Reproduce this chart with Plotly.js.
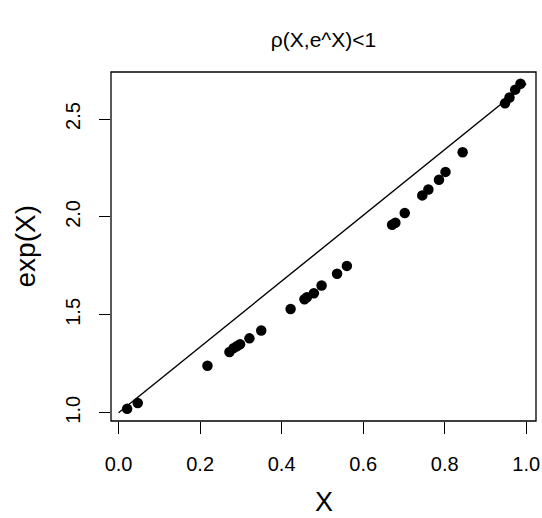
<!DOCTYPE html>
<html>
<head>
<meta charset="utf-8">
<script src="https://cdn.plot.ly/plotly-3.0.1.min.js"></script>
<style>html,body{margin:0;padding:0;background:#fff;}#chart{width:542px;height:518px;}</style>
</head>
<body>
<div id="chart"></div>
<script>
const xValues = [0.021, 0.047, 0.218, 0.272, 0.282, 0.290, 0.298, 0.321, 0.350, 0.422,
  0.456, 0.462, 0.479, 0.498, 0.536, 0.560, 0.671, 0.679, 0.702, 0.745,
  0.760, 0.786, 0.802, 0.844, 0.948, 0.959, 0.973, 0.986];
const yValues = [1.02, 1.05, 1.24, 1.31, 1.33, 1.34, 1.35, 1.38, 1.42, 1.53,
  1.58, 1.59, 1.61, 1.65, 1.71, 1.75, 1.96, 1.97, 2.02, 2.11,
  2.14, 2.19, 2.23, 2.33, 2.58, 2.61, 2.65, 2.68];
const lineX = [0, 1];
const lineY = [1, 2.68];
const xTicks = [0, 0.2, 0.4, 0.6, 0.8, 1.0];
const xTickLabels = ["0.0", "0.2", "0.4", "0.6", "0.8", "1.0"];
const yTicks = [1.0, 1.5, 2.0, 2.5];
const yTickLabels = ["1.0", "1.5", "2.0", "2.5"];
const titleText = "ρ(X,e^X)<1";
const xLabel = "X";
const yLabel = "exp(X)";

const font = "Liberation Sans, Arial, Helvetica, sans-serif";

const traces = [
  {x: lineX, y: lineY, type: "scatter", mode: "lines",
   line: {color: "#000", width: 1.4}, hoverinfo: "skip", cliponaxis: false},
  {x: xValues, y: yValues, type: "scatter", mode: "markers",
   marker: {color: "#000", size: 10.5, line: {width: 0}}}
];

const layout = {
  width: 542, height: 518,
  margin: {l: 111, r: 6, t: 72, b: 97},
  paper_bgcolor: "#fff", plot_bgcolor: "#fff",
  showlegend: false,
  font: {family: font, color: "#000"},
  title: {text: titleText, font: {family: font, size: 21, color: "#000"},
          x: 0.5, xref: "paper", y: 1 - 40/518, yref: "container", yanchor: "middle"},
  xaxis: {range: [-0.0186, 1.024], showgrid: false, zeroline: false, showline: false,
          tickmode: "array", tickvals: xTicks, ticktext: xTickLabels,
          ticks: "outside", ticklen: 12, tickwidth: 1, tickcolor: "#000",
          ticklabelstandoff: 13,
          tickfont: {family: font, size: 20, color: "#000"}},
  yaxis: {range: [0.958, 2.740], showgrid: false, zeroline: false, showline: false,
          tickmode: "array", tickvals: yTicks, ticktext: yTickLabels,
          ticks: "outside", ticklen: 11, tickwidth: 1, tickcolor: "#000",
          tickangle: -90, ticklabelstandoff: 11,
          tickfont: {family: font, size: 20, color: "#000"}},
  shapes: [
    {type: "rect", xref: "paper", yref: "paper", x0: 0, x1: 1, y0: 0, y1: 1,
     line: {color: "#000", width: 1.3}, fillcolor: "rgba(0,0,0,0)"}
  ],
  annotations: [
    {text: xLabel, xref: "paper", yref: "paper", x: 0.5, y: 0, yanchor: "middle",
     yshift: -81, showarrow: false, font: {family: font, size: 27, color: "#000"}},
    {text: yLabel, xref: "paper", yref: "paper", x: 0, y: 0.5, xanchor: "center",
     xshift: -86, textangle: -90, showarrow: false,
     font: {family: font, size: 28, color: "#000"}}
  ]
};

Plotly.newPlot("chart", traces, layout, {displayModeBar: false, staticPlot: true});
</script>
</body>
</html>
